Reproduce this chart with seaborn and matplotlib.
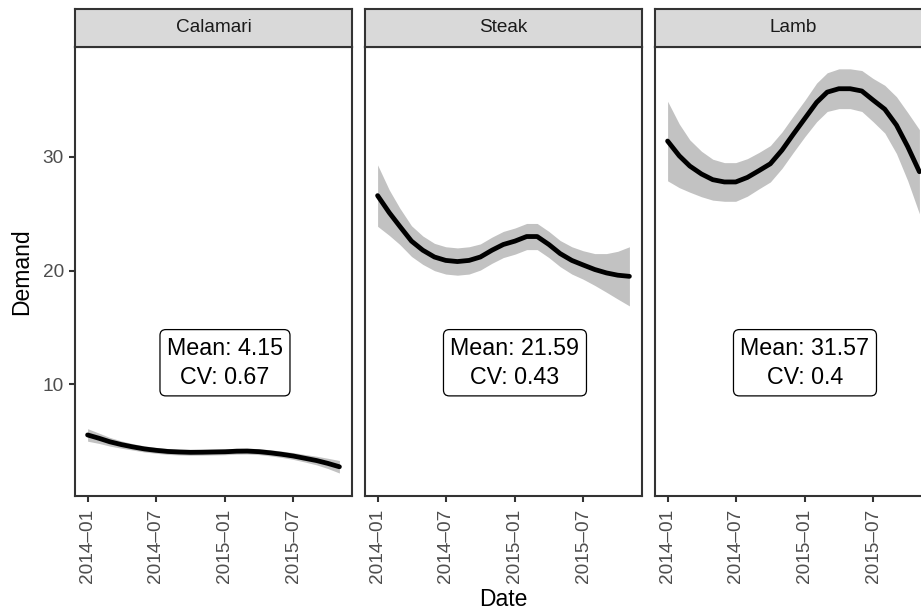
import matplotlib
matplotlib.use("Agg")
import matplotlib.pyplot as plt
import matplotlib.dates as mdates
import numpy as np
import pandas as pd
import seaborn as sns

sns.set_theme(style="white")
plt.rcParams["font.family"] = ["Liberation Sans", "DejaVu Sans"]

# ---- data (smoothed fits) ----
dates = pd.date_range("2014-01-01", "2015-11-01", freq="MS")
products = ["Calamari", "Steak", "Lamb"]

calamari_fit = [5.55, 5.25, 4.95, 4.70, 4.50, 4.32, 4.20, 4.10, 4.05, 4.02, 4.03, 4.05,
                4.07, 4.12, 4.13, 4.08, 3.98, 3.85, 3.70, 3.50, 3.30, 3.05, 2.75]
calamari_se = [0.55, 0.45, 0.38, 0.32, 0.28, 0.27, 0.26, 0.26, 0.26, 0.26, 0.26, 0.26,
               0.26, 0.26, 0.26, 0.26, 0.27, 0.28, 0.30, 0.33, 0.38, 0.45, 0.55]

steak_fit = [26.6, 25.1, 23.9, 22.6, 21.8, 21.2, 20.9, 20.8, 20.9, 21.2, 21.8, 22.3,
             22.6, 23.0, 23.0, 22.3, 21.5, 20.9, 20.5, 20.1, 19.8, 19.6, 19.5]
steak_se = [2.7, 2.0, 1.6, 1.35, 1.25, 1.2, 1.2, 1.2, 1.2, 1.15, 1.15, 1.15,
            1.15, 1.15, 1.15, 1.15, 1.15, 1.2, 1.25, 1.4, 1.7, 2.1, 2.6]

lamb_fit = [31.4, 30.1, 29.2, 28.5, 28.0, 27.8, 27.8, 28.2, 28.8, 29.4, 30.6, 32.0,
            33.4, 34.8, 35.7, 36.0, 36.0, 35.8, 35.0, 34.2, 32.8, 30.9, 28.7]
lamb_se = [3.5, 2.8, 2.3, 2.0, 1.8, 1.7, 1.7, 1.65, 1.6, 1.6, 1.6, 1.6,
           1.6, 1.7, 1.7, 1.75, 1.75, 1.8, 1.9, 2.1, 2.5, 3.0, 3.7]

means = [4.15, 21.59, 31.57]
cvs = [0.67, 0.43, 0.4]
label_date = pd.Timestamp("2015-01-01")
label_y = 11.9

fits = [calamari_fit, steak_fit, lamb_fit]
ses = [calamari_se, steak_se, lamb_se]

df = pd.concat([
    pd.DataFrame({"Date": dates, "Demand": f, "se": s, "Product": p})
    for p, f, s in zip(products, fits, ses)
], ignore_index=True)

# ---- figure ----
W, H, DPI = 921, 610, 150
fig = plt.figure(figsize=(W / DPI, H / DPI), dpi=DPI)

panel_left = [75, 365, 655]
panel_w = 277
panel_top, panel_bot = 47, 496
strip_top = 9
edge = "#333333"

x0, x1 = mdates.date2num(dates[0]), mdates.date2num(dates[-1])
pad = 0.05 * (x1 - x0)
ylim = (0.18, 39.67)
ticks = pd.to_datetime(["2014-01-01", "2014-07-01", "2015-01-01", "2015-07-01"])

for i, (prod, m, cv) in enumerate(zip(products, means, cvs)):
    L = panel_left[i]
    ax = fig.add_axes([L / W, (H - panel_bot) / H, panel_w / W, (panel_bot - panel_top) / H])
    sub = df[df["Product"] == prod]
    ax.fill_between(sub["Date"], sub["Demand"] - sub["se"], sub["Demand"] + sub["se"],
                    color="#C2C2C2", lw=0, zorder=1)
    sns.lineplot(data=sub, x="Date", y="Demand", ax=ax, color="black", lw=2.3, zorder=2)
    ax.set_xlim(x0 - pad, x1 + pad)
    ax.set_ylim(*ylim)
    ax.set_xticks(ticks)
    ax.set_xticklabels([t.strftime("%Y\u2013%m") for t in ticks], rotation=90,
                       color="#4D4D4D", fontsize=9.1)
    ax.set_yticks([10, 20, 30])
    if i == 0:
        ax.set_yticklabels(["10", "20", "30"], color="#4D4D4D", fontsize=9.1)
        ax.tick_params(axis="y", length=2.9, width=1.0, color=edge, pad=2.4, left=True)
    else:
        ax.tick_params(axis="y", left=False, labelleft=False)
    ax.tick_params(axis="x", length=2.9, width=1.0, color=edge, pad=3.0, bottom=True)
    ax.set_xlabel("")
    ax.set_ylabel("")
    ax.grid(False)
    ax.set_facecolor("white")
    for s in ax.spines.values():
        s.set_visible(True)
        s.set_color(edge)
        s.set_linewidth(1.0)
    ax.text(mdates.date2num(label_date), label_y, f"Mean: {m}\nCV: {cv}",
            ha="center", va="center", fontsize=11.2, color="black", linespacing=1.35,
            bbox=dict(boxstyle="round,pad=0.3,rounding_size=0.25", fc="white",
                      ec="black", lw=0.6), zorder=5)

    sax = fig.add_axes([L / W, (H - panel_top) / H, panel_w / W, (panel_top - strip_top) / H])
    sax.set_facecolor("#D9D9D9")
    sax.set_xticks([])
    sax.set_yticks([])
    for s in sax.spines.values():
        s.set_visible(True)
        s.set_color(edge)
        s.set_linewidth(1.0)
    sax.text(0.5, 0.5, prod, ha="center", va="center", fontsize=9.1, color="#1A1A1A",
             transform=sax.transAxes)

fig.text((75 + 932) / 2 / W, 1 - 599 / H, "Date", ha="center", va="center", fontsize=11, color="black")
fig.text(22 / W, 1 - 272 / H, "Demand", ha="center", va="center", rotation=90, fontsize=11, color="black")

fig.savefig("out.png", dpi=DPI)
